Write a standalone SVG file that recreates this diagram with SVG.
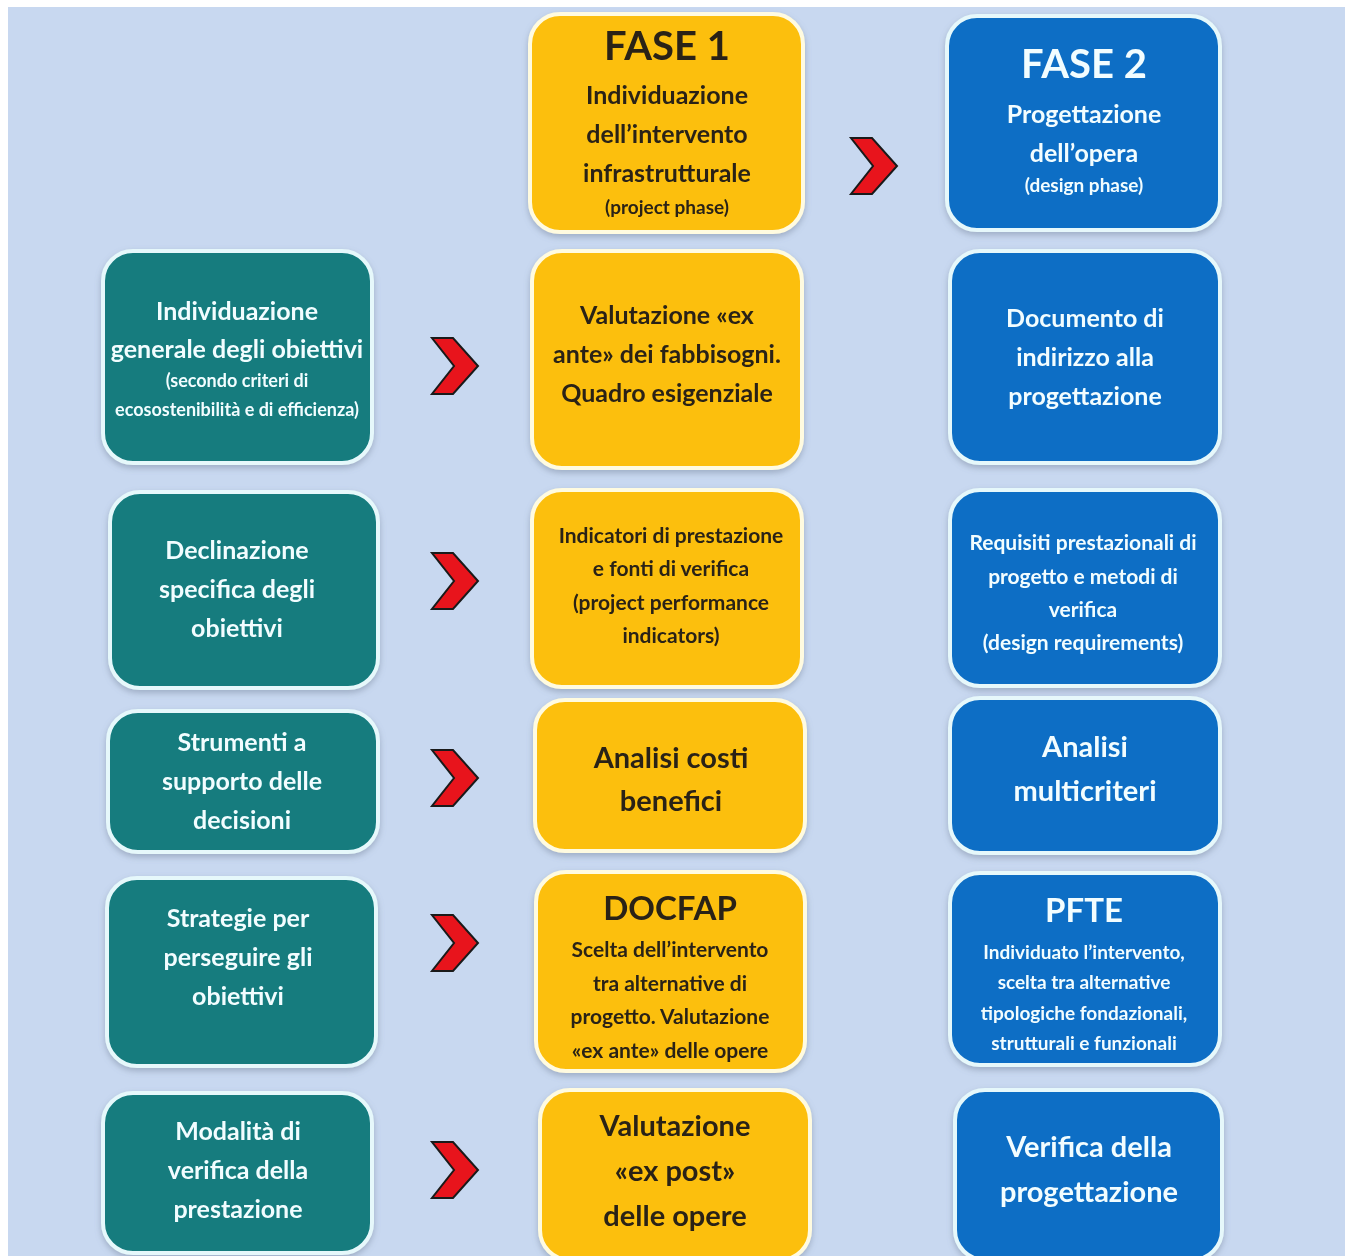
<svg xmlns="http://www.w3.org/2000/svg" xmlns:xlink="http://www.w3.org/1999/xlink" width="1349" height="1256" viewBox="0 0 1349 1256">
<defs>
<style>
.bg{fill:#c8d8f0}
.box{stroke:#e6f8fb;stroke-width:4}
.teal{fill:#137c7e}
.yel{fill:#fcbf10;stroke:#fffbe0}
.blu{fill:#0e6ec5}
text{font-family:Lato,"Open Sans","Liberation Sans",sans-serif;font-weight:bold;text-anchor:middle}
.w{fill:#f2fdff}
.d{fill:#2b2415}
.t26{font-size:25px}
.t22{font-size:21px}
.t17{font-size:19px}
.t18{font-size:18px}
.big{font-size:40px}
.t30{font-size:29px}
.t34{font-size:33px}
</style>
<filter id="sh" x="-10%" y="-10%" width="120%" height="120%">
<feDropShadow dx="0" dy="3" stdDeviation="3" flood-color="#6a7890" flood-opacity="0.45"/>
</filter>
<path id="chev" d="M0,0 L21,0 L46,28 L21,56 L0,56 L22,28 Z" fill="#e8141c" stroke="#1a1a1a" stroke-width="2" stroke-linejoin="miter"/>
</defs>
<rect x="0" y="0" width="1349" height="1256" fill="#ffffff"/>
<rect class="bg" x="8" y="7" width="1337" height="1249"/>

<g id="connectors">
<use xlink:href="#chev" x="851" y="138"/>
<use xlink:href="#chev" x="432" y="338"/>
<use xlink:href="#chev" x="432" y="553"/>
<use xlink:href="#chev" x="432" y="750"/>
<use xlink:href="#chev" x="432" y="915"/>
<use xlink:href="#chev" x="432" y="1142"/>
</g>

<g id="fase1" filter="url(#sh)">
<rect class="box yel" x="530" y="14" width="273" height="218" rx="30"/>
<text class="d big" x="667" y="60">FASE 1</text>
<text class="d t26" x="667" y="104">Individuazione</text>
<text class="d t26" x="667" y="143">dell’intervento</text>
<text class="d t26" x="667" y="182">infrastrutturale</text>
<text class="d t17" x="667" y="214">(project phase)</text>
</g>

<g id="fase2" filter="url(#sh)">
<rect class="box blu" x="947" y="16" width="273" height="214" rx="30"/>
<text class="w big" x="1084" y="78">FASE 2</text>
<text class="w t26" x="1084" y="123">Progettazione</text>
<text class="w t26" x="1084" y="162">dell’opera</text>
<text class="w t17" x="1084" y="192">(design phase)</text>
</g>

<g id="obiettivi-generali" filter="url(#sh)">
<rect class="box teal" x="103" y="251" width="269" height="212" rx="30"/>
<text class="w t26" x="237" y="320">Individuazione</text>
<text class="w t26" x="237" y="358">generale degli obiettivi</text>
<text class="w t18" x="237" y="387">(secondo criteri di</text>
<text class="w t18" x="237" y="416">ecosostenibilità e di efficienza)</text>
</g>
<g id="valutazione-ex-ante" filter="url(#sh)">
<rect class="box yel" x="532" y="251" width="270" height="217" rx="30"/>
<text class="d t26" x="667" y="324">Valutazione «ex</text>
<text class="d t26" x="667" y="363">ante» dei fabbisogni.</text>
<text class="d t26" x="667" y="402">Quadro esigenziale</text>
</g>
<g id="documento-indirizzo" filter="url(#sh)">
<rect class="box blu" x="950" y="251" width="270" height="212" rx="30"/>
<text class="w t26" x="1085" y="327">Documento di</text>
<text class="w t26" x="1085" y="366">indirizzo alla</text>
<text class="w t26" x="1085" y="405">progettazione</text>
</g>

<g id="declinazione" filter="url(#sh)">
<rect class="box teal" x="110" y="492" width="268" height="196" rx="30"/>
<text class="w t26" x="237" y="559">Declinazione</text>
<text class="w t26" x="237" y="598">specifica degli</text>
<text class="w t26" x="237" y="637">obiettivi</text>
</g>
<g id="indicatori" filter="url(#sh)">
<rect class="box yel" x="532" y="490" width="270" height="197" rx="30"/>
<text class="d t22" x="671" y="543">Indicatori di prestazione</text>
<text class="d t22" x="671" y="576">e fonti di verifica</text>
<text class="d t22" x="671" y="610">(project performance</text>
<text class="d t22" x="671" y="643">indicators)</text>
</g>
<g id="requisiti" filter="url(#sh)">
<rect class="box blu" x="950" y="490" width="270" height="196" rx="30"/>
<text class="w t22" x="1083" y="550">Requisiti prestazionali di</text>
<text class="w t22" x="1083" y="584">progetto e metodi di</text>
<text class="w t22" x="1083" y="617">verifica</text>
<text class="w t22" x="1083" y="650">(design requirements)</text>
</g>

<g id="strumenti" filter="url(#sh)">
<rect class="box teal" x="108" y="711" width="270" height="141" rx="30"/>
<text class="w t26" x="242" y="751">Strumenti a</text>
<text class="w t26" x="242" y="790">supporto delle</text>
<text class="w t26" x="242" y="829">decisioni</text>
</g>
<g id="analisi-costi" filter="url(#sh)">
<rect class="box yel" x="535" y="700" width="270" height="151" rx="30"/>
<text class="d t30" x="671" y="768">Analisi costi</text>
<text class="d t30" x="671" y="811">benefici</text>
</g>
<g id="analisi-multicriteri" filter="url(#sh)">
<rect class="box blu" x="950" y="698" width="270" height="155" rx="30"/>
<text class="w t30" x="1085" y="757">Analisi</text>
<text class="w t30" x="1085" y="801">multicriteri</text>
</g>

<g id="strategie" filter="url(#sh)">
<rect class="box teal" x="107" y="878" width="269" height="188" rx="30"/>
<text class="w t26" x="238" y="927">Strategie per</text>
<text class="w t26" x="238" y="966">perseguire gli</text>
<text class="w t26" x="238" y="1005">obiettivi</text>
</g>
<g id="docfap" filter="url(#sh)">
<rect class="box yel" x="536" y="872" width="269" height="199" rx="30"/>
<text class="d t34" x="670" y="920">DOCFAP</text>
<text class="d t22" x="670" y="957">Scelta dell’intervento</text>
<text class="d t22" x="670" y="991">tra alternative di</text>
<text class="d t22" x="670" y="1024">progetto. Valutazione</text>
<text class="d t22" x="670" y="1058">«ex ante» delle opere</text>
</g>
<g id="pfte" filter="url(#sh)">
<rect class="box blu" x="950" y="873" width="270" height="192" rx="30"/>
<text class="w t34" x="1084" y="922">PFTE</text>
<text class="w" style="font-size:19px" x="1084" y="959">Individuato l’intervento,</text>
<text class="w" style="font-size:19px" x="1084" y="989">scelta tra alternative</text>
<text class="w" style="font-size:19px" x="1084" y="1020">tipologiche fondazionali,</text>
<text class="w" style="font-size:19px" x="1084" y="1050">strutturali e funzionali</text>
</g>

<g id="modalita" filter="url(#sh)">
<rect class="box teal" x="103" y="1093" width="269" height="160" rx="30"/>
<text class="w t26" x="238" y="1140">Modalità di</text>
<text class="w t26" x="238" y="1179">verifica della</text>
<text class="w t26" x="238" y="1218">prestazione</text>
</g>
<g id="valutazione-ex-post" filter="url(#sh)">
<rect class="box yel" x="540" y="1090" width="270" height="170" rx="30"/>
<text class="d t30" x="675" y="1136">Valutazione</text>
<text class="d t30" x="675" y="1181">«ex post»</text>
<text class="d t30" x="675" y="1226">delle opere</text>
</g>
<g id="verifica-progettazione" filter="url(#sh)">
<rect class="box blu" x="955" y="1090" width="267" height="170" rx="30"/>
<text class="w t30" x="1089" y="1157">Verifica della</text>
<text class="w t30" x="1089" y="1202">progettazione</text>
</g>
</svg>
